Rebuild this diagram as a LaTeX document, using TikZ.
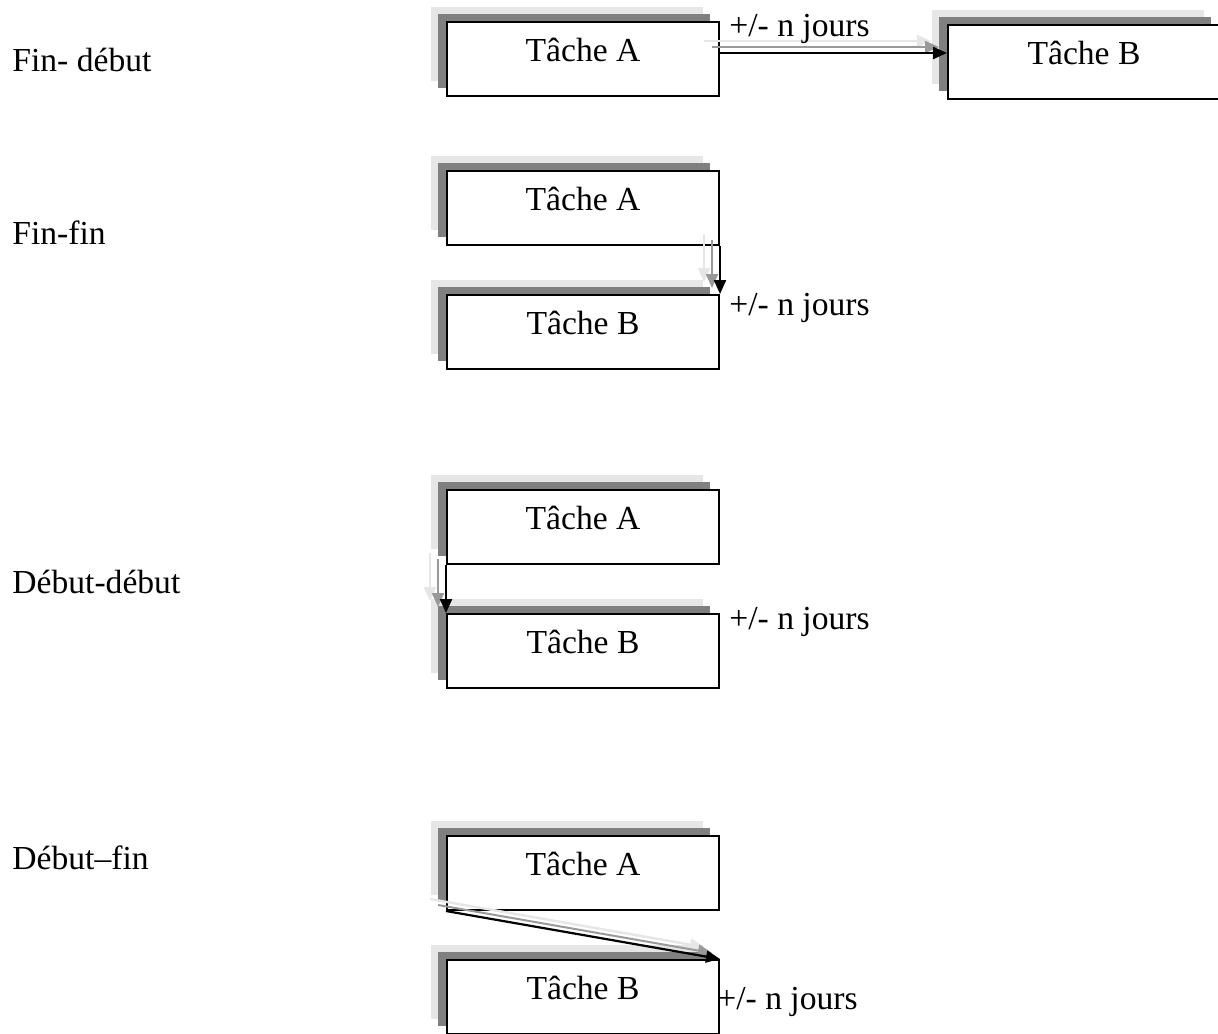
\documentclass[tikz,border=0pt]{standalone}
\usepackage{fontspec}
\setmainfont{Liberation Serif}
\usetikzlibrary{arrows.meta, positioning, calc, shadows}
\definecolor{cdark}{HTML}{808080}
\definecolor{clight}{HTML}{E6E6E6}
\tikzset{
  every picture/.style={font=\fontsize{16.8}{20}\selectfont},
  task/.style={draw=black, fill=white, line width=1pt, minimum width=136pt, minimum height=37pt,
    text depth=9pt, inner sep=0pt,
    general shadow={shadow xshift=-8pt, shadow yshift=7.5pt, fill=clight},
    general shadow={shadow xshift=-4.5pt, shadow yshift=4pt, fill=cdark}},
  link/.style={-{Triangle[length=7pt, width=6pt]}, draw=black, line width=1.1pt,
    preaction={draw=clight, line width=1.2pt, transform canvas={shift={(-8pt,6pt)}}},
    preaction={draw=cdark!80, line width=1pt, transform canvas={shift={(-4pt,3pt)}}}},
  kind/.style={anchor=west, inner sep=0pt},
  lag/.style={anchor=west, inner sep=0pt},
}

\begin{document}
\begin{tikzpicture}[x=0.5pt, y=-0.5pt]
  \useasboundingbox (0,0) rectangle (1218,1033);
  % names of the links
  \node[kind] (k1) at (12,60) {Fin- début};
  \node[kind] (k2) at (12,233) {Fin-fin};
  \node[kind] (k3) at (12,582) {Début-début};
  \node[kind] (k4) at (12,858) {Début--fin};
  % fin - debut
  \node[task] (a1) at (583,59) {Tâche A};
  \node[task] (b1) at (1084,62) {Tâche B};
  \coordinate (s1) at ($(a1.east)+(0,-6)$);
  \draw[link] (s1) -- (s1 -| b1.west);
  \node[lag] (d1) at ($(a1.north east)+(9,8)$) {+/- n jours};
  % fin - fin
  \node[task] (a2) at (583,208) {Tâche A};
  \node[task] (b2) at (583,332) {Tâche B};
  \draw[link] (a2.south east) -- (b2.north east);
  \node[lag] (d2) at ($(b2.north east)+(9,14)$) {+/- n jours};
  % debut - debut
  \node[task] (a3) at (583,527) {Tâche A};
  \node[task] (b3) at (583,651) {Tâche B};
  \draw[link] (a3.south west) -- (b3.north west);
  \node[lag] (d3) at ($(b3.north east)+(9,9)$) {+/- n jours};
  % debut - fin
  \node[task] (a4) at (583,873) {Tâche A};
  \node[task] (b4) at (583,997) {Tâche B};
  \draw[link] (a4.south west) -- (b4.north east);
  \node[lag] (d4) at ($(b4.east)+(-3,5)$) {+/- n jours};
\end{tikzpicture}
\end{document}
